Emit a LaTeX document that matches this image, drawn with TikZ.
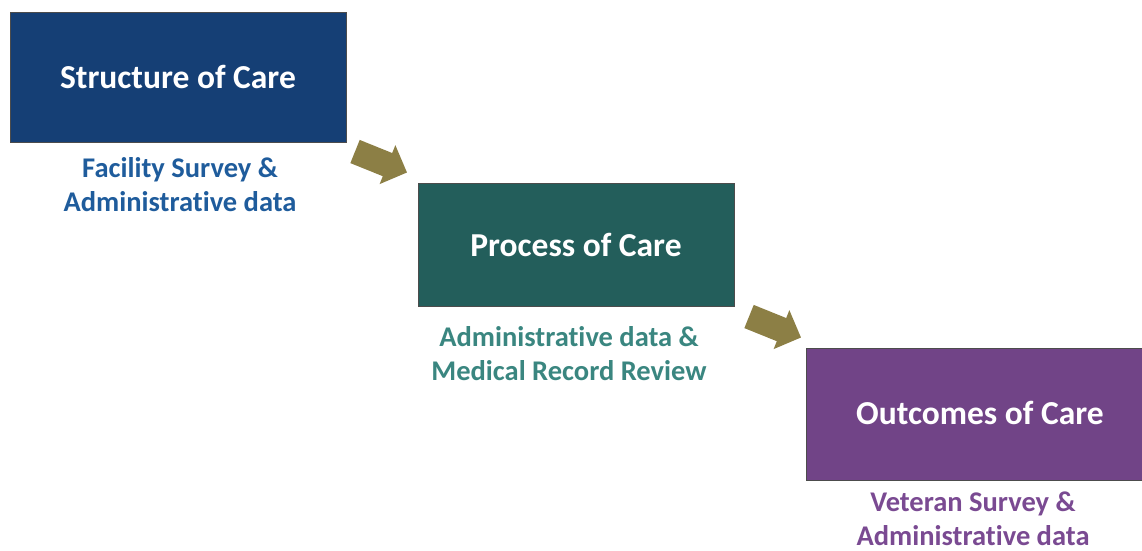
\documentclass[tikz,border=0pt]{standalone}
\usepackage{fontspec}
\setmainfont{Carlito}[Ligatures=NoCommon]
\usetikzlibrary{positioning}
\definecolor{cblue}{HTML}{153F75}
\definecolor{cteal}{HTML}{235E5B}
\definecolor{cpurple}{HTML}{714487}
\definecolor{tblue}{HTML}{1F5C9C}
\definecolor{tteal}{HTML}{3A8680}
\definecolor{tpurple}{HTML}{7A4A92}
\definecolor{olive}{HTML}{8C7F45}
\tikzset{
  box/.style={draw=black!70, line width=0.8pt, inner sep=0pt, text=white, font=\bfseries\fontsize{33.5}{36}\selectfont},
  sub/.style={align=center, font=\bfseries\fontsize{28.5}{34}\selectfont, inner sep=0pt},
  blockarrow/.style={fill=olive}
}
\begin{document}
\begin{tikzpicture}[x=1pt,y=1pt]
\useasboundingbox (0,0) rectangle (1142,550);
\node[box, fill=cblue, minimum width=336pt, minimum height=130pt] (b1) at (178,473) {Structure of Care};
\node[box, fill=cteal, minimum width=316pt, minimum height=123pt] (b2) at (576,305.5) {Process of Care};
\node[box, fill=cpurple, minimum width=338pt, minimum height=132pt, anchor=north west] (b3) at (806,202) {};
\node[text=white, font=\bfseries\fontsize{33.5}{36}\selectfont] (t3) at (980,137.5) {Outcomes of Care};
\node[sub, text=tblue] (s1) at (180,365) {Facility Survey \&\\Administrative data};
\node[sub, text=tteal] (s2) at (569,196.5) {Administrative data \&\\Medical Record Review};
\node[sub, text=tpurple] (s3) at (973,31) {Veteran Survey \&\\Administrative data};
\coordinate (a1) at (381,388);
\coordinate (a2) at (775,223);
\foreach \c in {a1,a2}{
  \fill[blockarrow, shift={(\c)}, rotate=-22] (-28,-12.5) -- (7,-12.5) -- (7,-21) -- (28,0) -- (7,21) -- (7,12.5) -- (-28,12.5) -- cycle;
}
\end{tikzpicture}
\end{document}
